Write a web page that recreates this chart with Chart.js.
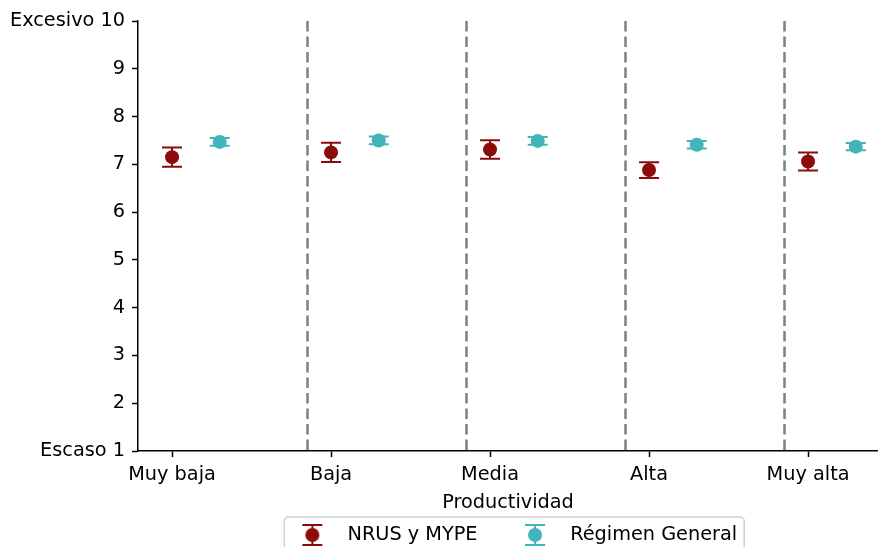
<!DOCTYPE html>
<html><head><meta charset="utf-8">
<script src="https://cdn.jsdelivr.net/npm/chart.js@4"></script>
<style>html,body{margin:0;padding:0;background:#fff;}</style>
</head><body>
<canvas id="c" width="878" height="547" style="width:878px;height:547px;display:block"></canvas>
<script>
// ---- data ----
const categories = ['Muy baja', 'Baja', 'Media', 'Alta', 'Muy alta'];
const seriesNames = ['NRUS y MYPE', 'Régimen General'];
const nrusMean = [7.15, 7.25, 7.31, 6.88, 7.06];
const nrusErr = [0.20, 0.20, 0.195, 0.165, 0.19];
const generalMean = [7.47, 7.50, 7.49, 7.41, 7.37];
const generalErr = [0.08, 0.08, 0.08, 0.08, 0.075];
const yTickValues = [1, 2, 3, 4, 5, 6, 7, 8, 9, 10];
const yTickLabels = {1: 'Escaso 1', 10: 'Excesivo 10'};
const groupOffset = [0, 0.3];
const dividers = [0.85, 1.85, 2.85, 3.85];

const RED = '#8c0c0a';
const TEAL = '#42b4bb';
const FONT = 'DejaVu Sans';
const FS = 19.3;
const LEG_PAD = 32;
const LEG_BOX = 51;

function pts(means, off) { return means.map((v, i) => ({x: i + off, y: v})); }

function makeIcon(color) {
  const c = document.createElement('canvas');
  c.width = 22; c.height = 22;
  const g = c.getContext('2d');
  g.strokeStyle = color; g.fillStyle = color; g.lineWidth = 2;
  g.beginPath(); g.moveTo(11, 1); g.lineTo(11, 21);
  g.moveTo(1, 1); g.lineTo(21, 1); g.moveTo(1, 21); g.lineTo(21, 21); g.stroke();
  g.beginPath(); g.arc(11, 11, 7, 0, Math.PI * 2); g.fill();
  return c;
}
const icons = [makeIcon(RED), makeIcon(TEAL)];

const errorBars = {
  id: 'errorBars',
  beforeDraw(chart) {
    const lg = chart.legend;
    if (!lg) return;
    lg.top = 535 - FS / 2 - LEG_PAD;
    lg.bottom = chart.height + 30;
    lg.left = chart.chartArea.left + 4;
    lg.right = chart.chartArea.right + 4;
  },
  beforeDatasetsDraw(chart) {
    const {ctx, scales: {x, y}, chartArea} = chart;
    ctx.save();
    ctx.strokeStyle = '#7f7f7f'; ctx.lineWidth = 2.5; ctx.setLineDash([10.5, 5]);
    dividers.forEach(d => {
      const px = Math.round(x.getPixelForValue(d)) + 0.5;
      ctx.beginPath(); ctx.moveTo(px, chartArea.top); ctx.lineTo(px, chartArea.bottom); ctx.stroke();
    });
    ctx.setLineDash([]);
    chart.data.datasets.forEach((ds) => {
      ctx.strokeStyle = ds.backgroundColor; ctx.lineWidth = 2;
      ds.data.forEach((p, i) => {
        const e = ds.errors[i];
        const px = x.getPixelForValue(p.x);
        const y1 = y.getPixelForValue(p.y + e), y2 = y.getPixelForValue(p.y - e);
        ctx.beginPath();
        ctx.moveTo(px, y1); ctx.lineTo(px, y2);
        ctx.moveTo(px - 10, y1); ctx.lineTo(px + 10, y1);
        ctx.moveTo(px - 10, y2); ctx.lineTo(px + 10, y2);
        ctx.stroke();
      });
    });
    ctx.restore();
  },
  afterDraw(chart) {
    const lg = chart.legend;
    if (!lg) return;
    const start = (lg.left + LEG_PAD + lg.right - lg.lineWidths[0]) / 2;
    const blockW = lg.lineWidths[0] - LEG_PAD;
    const left = start - 2.5, right = start + blockW + 7;
    const top = 517, bottom = chart.height + 20;
    const ctx = chart.ctx;
    ctx.save();
    ctx.strokeStyle = '#d0d0d0'; ctx.lineWidth = 1.5;
    ctx.beginPath();
    if (ctx.roundRect) ctx.roundRect(left, top, right - left, bottom - top, 4);
    else ctx.rect(left, top, right - left, bottom - top);
    ctx.stroke();
    ctx.restore();
  }
};

new Chart(document.getElementById('c'), {
  type: 'scatter',
  data: {
    datasets: [
      {label: seriesNames[0], data: pts(nrusMean, groupOffset[0]), errors: nrusErr,
       backgroundColor: RED, borderColor: RED, pointRadius: 7, pointHoverRadius: 7, borderWidth: 0},
      {label: seriesNames[1], data: pts(generalMean, groupOffset[1]), errors: generalErr,
       backgroundColor: TEAL, borderColor: TEAL, pointRadius: 7, pointHoverRadius: 7, borderWidth: 0}
    ]
  },
  options: {
    responsive: false,
    devicePixelRatio: 1,
    animation: false,
    layout: {autoPadding: false, padding: {top: 21, right: 0, left: 0, bottom: -8}},
    plugins: {
      tooltip: {enabled: false},
      legend: {
        position: 'bottom',
        fullSize: false,
        maxHeight: 34,
        labels: {
          usePointStyle: true,
          pointStyleWidth: LEG_BOX,
          padding: LEG_PAD,
          color: '#000',
          font: {family: FONT, size: FS},
          generateLabels: () => seriesNames.map((n, i) => ({
            text: n, pointStyle: icons[i], fillStyle: 'transparent', strokeStyle: 'transparent',
            lineWidth: 0, datasetIndex: i, hidden: false, fontColor: '#000'
          }))
        }
      }
    },
    scales: {
      x: {
        type: 'linear',
        min: -0.214, max: 4.44,
        afterBuildTicks: s => { s.ticks = categories.map((c, i) => ({value: i})); },
        afterFit: s => { s.height = 70; s.paddingLeft = 0; s.paddingRight = 0; },
        ticks: {
          color: '#000', font: {family: FONT, size: FS}, padding: 6, maxRotation: 0, autoSkip: false,
          callback: v => categories[v]
        },
        grid: {drawOnChartArea: false, drawTicks: true, tickLength: 6, tickColor: '#000', tickWidth: 1.5},
        border: {display: true, color: '#000', width: 1.5},
        title: {display: true, text: 'Productividad', color: '#000', font: {family: FONT, size: FS}, padding: {top: 0, bottom: 6.5}}
      },
      y: {
        min: 1, max: 10,
        afterBuildTicks: s => { s.ticks = yTickValues.map(v => ({value: v})); },
        afterFit: s => { s.width = 138; s.paddingTop = 0; s.paddingBottom = 0; },
        ticks: {
          color: '#000', font: {family: FONT, size: FS}, padding: 7, autoSkip: false,
          callback: v => yTickLabels[v] || String(v)
        },
        grid: {drawOnChartArea: false, drawTicks: true, tickLength: 6, tickColor: '#000', tickWidth: 1.5},
        border: {display: true, color: '#000', width: 1.5}
      }
    }
  },
  plugins: [errorBars]
});
</script>
</body></html>
